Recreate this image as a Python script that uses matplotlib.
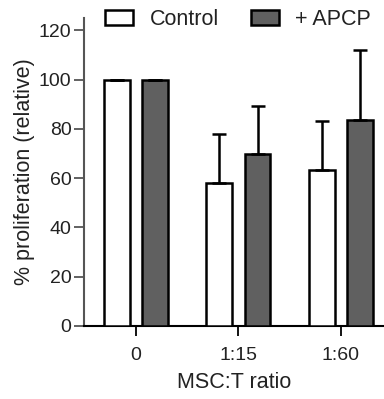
import matplotlib
matplotlib.use("Agg")
import matplotlib.pyplot as plt
from matplotlib.patches import Patch
import numpy as np

plt.rcParams['font.family'] = ['Liberation Sans', 'DejaVu Sans']

categories = ["0", "1:15", "1:60"]
control = [100, 58, 63.5]
control_err = [0, 20, 19.8]
apcp = [100, 69.8, 83.5]
apcp_err = [0, 19.6, 28.3]
series_names = ["Control", "+ APCP"]

fig = plt.figure(figsize=(3.84, 3.99), dpi=100)
ax = fig.add_axes([0.219, 0.183, 0.781, 0.772])

x = np.arange(len(categories))
w = 0.25
off = 0.187
ekw = dict(elinewidth=1.8, capthick=1.8, capsize=5, ecolor='black')
ax.bar(x - off, control, w, color='white', edgecolor='black', linewidth=1.8,
       yerr=[np.zeros(3), control_err], error_kw=ekw, zorder=3)
ax.bar(x + off, apcp, w, color='#606060', edgecolor='black', linewidth=1.8,
       yerr=[np.zeros(3), apcp_err], error_kw=ekw, zorder=3)

ax.set_xlim(-0.506, 2.42)
ax.set_ylim(0, 125)
ax.set_yticks([0, 20, 40, 60, 80, 100, 120])
ax.set_xticks(x)
ax.set_xticklabels(categories)
for s in ['top', 'right']:
    ax.spines[s].set_visible(False)
ax.spines['left'].set_color('#555555')
ax.spines['left'].set_linewidth(1.5)
ax.spines['bottom'].set_linewidth(1.5)
ax.tick_params(axis='y', length=7, width=1.3, colors='#555555', labelcolor='#222222', labelsize=14, pad=2)
ax.tick_params(axis='x', length=7, width=1.3, labelsize=14, labelcolor='#222222', pad=8)
ax.set_ylabel("% proliferation (relative)", fontsize=15.5, color='#222222', labelpad=3)
ax.set_xlabel("MSC:T ratio", fontsize=15.5, color='#222222', labelpad=6)

handles = [Patch(facecolor='white', edgecolor='black', linewidth=1.8),
           Patch(facecolor='#606060', edgecolor='black', linewidth=1.8)]
fig.legend(handles, series_names, loc='upper left', bbox_to_anchor=(0.224, 1.025),
           ncol=2, frameon=False, fontsize=15.5, handlelength=1.3, handleheight=0.7,
           columnspacing=1.5, handletextpad=0.75, labelcolor='#222222')

fig.savefig("out.png", dpi=100)
